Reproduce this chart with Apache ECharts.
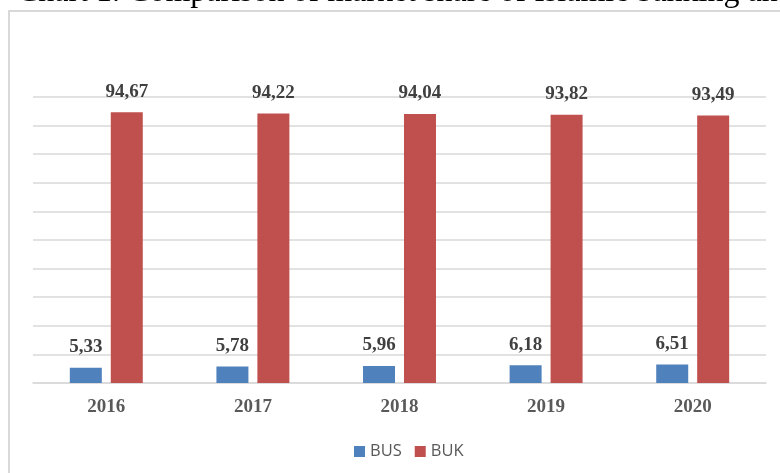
<!DOCTYPE html>
<html><head><meta charset="utf-8">
<script src="https://cdn.jsdelivr.net/npm/echarts@6/dist/echarts.min.js"></script>
<style>html,body{margin:0;padding:0;background:#fff}#c{width:780px;height:473px}</style>
</head><body><div id="c"></div>
<script>
const categories = ['2016','2017','2018','2019','2020'];
const busValues = [5.33, 5.78, 5.96, 6.18, 6.51];
const bukValues = [94.67, 94.22, 94.04, 93.82, 93.49];
const seriesNames = ['BUS','BUK'];
const fmt = p => p.value.toFixed(2).replace('.', ',');
const chart = echarts.init(document.getElementById('c'));
const labelStyle = {show:true, position:'top', distance:11, formatter:fmt,
  fontFamily:'Liberation Serif', fontWeight:'bold', fontSize:19, color:'#404040'};
chart.setOption({
  animation:false,
  title:{text:'Chart 1. Comparison of market share of Islamic banking and', left:12, top:-28,
    textStyle:{fontFamily:'Liberation Serif', fontWeight:'normal', fontSize:32, color:'#000'}},
  graphic:[{type:'rect', shape:{x:9, y:11, width:800, height:500}, style:{fill:'none', stroke:'#d9d9d9', lineWidth:2}, z:-1}],
  legend:{data:seriesNames, top:438, left:349, itemWidth:11, itemHeight:11, itemGap:13,
    icon:'rect', textStyle:{fontFamily:'Open Sans', fontSize:16.5, color:'#595959'}},
  grid:{left:33, right:14, top:97, bottom:90},
  xAxis:{type:'category', data:categories,
    axisLine:{lineStyle:{color:'#d9d9d9', width:1.5}}, axisTick:{show:false},
    axisLabel:{fontFamily:'Liberation Serif', fontWeight:'bold', fontSize:19, color:'#595959', margin:15}},
  yAxis:{type:'value', min:0, max:100, interval:10, axisLabel:{show:false},
    axisLine:{show:false}, axisTick:{show:false},
    splitLine:{lineStyle:{color:'#d9d9d9', width:1.5}}},
  series:[
    {name:'BUS', type:'bar', data:busValues, barWidth:32, barGap:'28%', itemStyle:{color:'#4F81BD'}, label:labelStyle},
    {name:'BUK', type:'bar', data:bukValues, barWidth:32, itemStyle:{color:'#C0504D'}, label:labelStyle}
  ]
});
</script></body></html>
